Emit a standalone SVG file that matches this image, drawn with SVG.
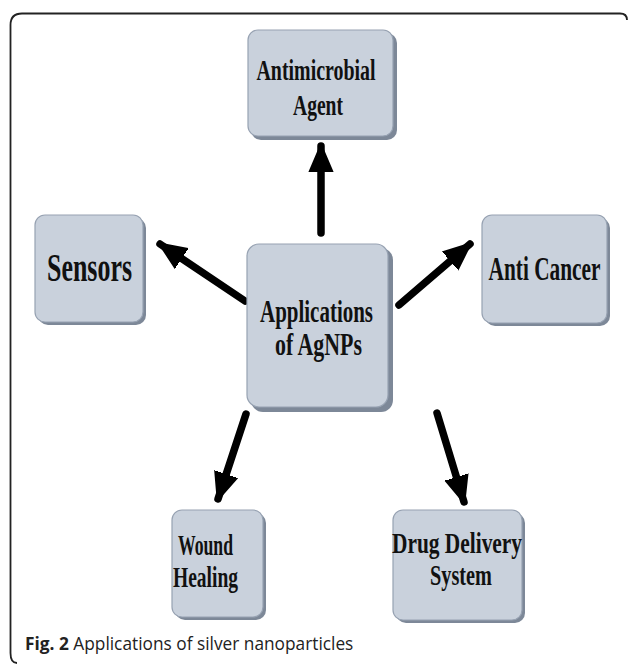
<svg xmlns="http://www.w3.org/2000/svg" width="629" height="666" viewBox="0 0 629 666">
<defs>
<style>
.shadow{fill:#7d8898;}
.box{fill:#c9d1dc;stroke:#97a2b2;stroke-width:1.2;}
.lbl{font-family:"Liberation Serif","Times New Roman",serif;font-weight:bold;fill:#111;text-anchor:middle;}
.conn{stroke:#000;stroke-width:7.5;stroke-linecap:round;fill:none;}
.cap{font-family:"Open Sans","Noto Sans",sans-serif;font-size:17.3px;fill:#222;}
</style>
<marker id="ah" markerUnits="userSpaceOnUse" markerWidth="28" markerHeight="28" viewBox="0 0 28 28" refX="26" refY="14" orient="auto">
<path d="M0,2.5 L27,14 L0,25.5 Z" fill="#000" stroke="#000" stroke-width="2" stroke-linejoin="round"/>
</marker>
</defs>
<rect width="629" height="666" fill="#fff"/>
<path d="M627,20 Q627,13.5 620,13.5 L22,13.5 Q10.5,13.5 10.5,25 L10.5,653 Q10.5,663 17,663" fill="none" stroke="#222" stroke-width="1.8"/>

<g id="connectors">
<line class="conn" x1="321" y1="233" x2="321" y2="146" marker-end="url(#ah)"/>
<line class="conn" x1="245" y1="301" x2="160" y2="244" marker-end="url(#ah)"/>
<line class="conn" x1="399" y1="305" x2="470" y2="244" marker-end="url(#ah)"/>
<line class="conn" x1="246" y1="414" x2="218" y2="499" marker-end="url(#ah)"/>
<line class="conn" x1="437" y1="413" x2="464" y2="502" marker-end="url(#ah)"/>
</g>

<g id="node-antimicrobial">
<rect class="shadow" x="251" y="33" width="146" height="107" rx="10"/>
<rect class="box" x="248" y="30" width="145" height="106" rx="10"/>
<text class="lbl" font-size="30" x="316" y="80" textLength="119" lengthAdjust="spacingAndGlyphs">Antimicrobial</text>
<text class="lbl" font-size="30" x="318" y="115" textLength="50" lengthAdjust="spacingAndGlyphs">Agent</text>
</g>

<g id="node-center">
<rect class="shadow" x="251" y="248" width="142" height="164" rx="12"/>
<rect class="box" x="247" y="244" width="141" height="163" rx="12"/>
<text class="lbl" font-size="32" x="316.5" y="322" textLength="113" lengthAdjust="spacingAndGlyphs">Applications</text>
<text class="lbl" font-size="32" x="318.5" y="355" textLength="87" lengthAdjust="spacingAndGlyphs">of AgNPs</text>
</g>

<g id="node-sensors">
<rect class="shadow" x="38" y="218" width="108" height="107" rx="10"/>
<rect class="box" x="35" y="215" width="108" height="107" rx="10"/>
<text class="lbl" font-size="39" x="89.5" y="281" textLength="85" lengthAdjust="spacingAndGlyphs">Sensors</text>
</g>

<g id="node-anticancer">
<rect class="shadow" x="485" y="218" width="125" height="108" rx="10"/>
<rect class="box" x="482" y="215" width="125" height="108" rx="10"/>
<text class="lbl" font-size="34" x="544.5" y="280" textLength="112" lengthAdjust="spacingAndGlyphs">Anti Cancer</text>
</g>

<g id="node-wound">
<rect class="shadow" x="175" y="513" width="91" height="107" rx="10"/>
<rect class="box" x="172" y="510" width="91" height="107" rx="10"/>
<text class="lbl" font-size="29" x="205.5" y="555" textLength="55" lengthAdjust="spacingAndGlyphs">Wound</text>
<text class="lbl" font-size="29" x="205.5" y="587" textLength="65" lengthAdjust="spacingAndGlyphs">Healing</text>
</g>

<g id="node-drug">
<rect class="shadow" x="396" y="513" width="129" height="110" rx="10"/>
<rect class="box" x="393" y="510" width="129" height="110" rx="10"/>
<text class="lbl" font-size="29" x="457" y="553" textLength="130" lengthAdjust="spacingAndGlyphs">Drug Delivery</text>
<text class="lbl" font-size="29" x="461" y="585" textLength="62" lengthAdjust="spacingAndGlyphs">System</text>
</g>

<text class="cap" x="25" y="650"><tspan font-weight="bold">Fig. 2</tspan> Applications of silver nanoparticles</text>
</svg>
